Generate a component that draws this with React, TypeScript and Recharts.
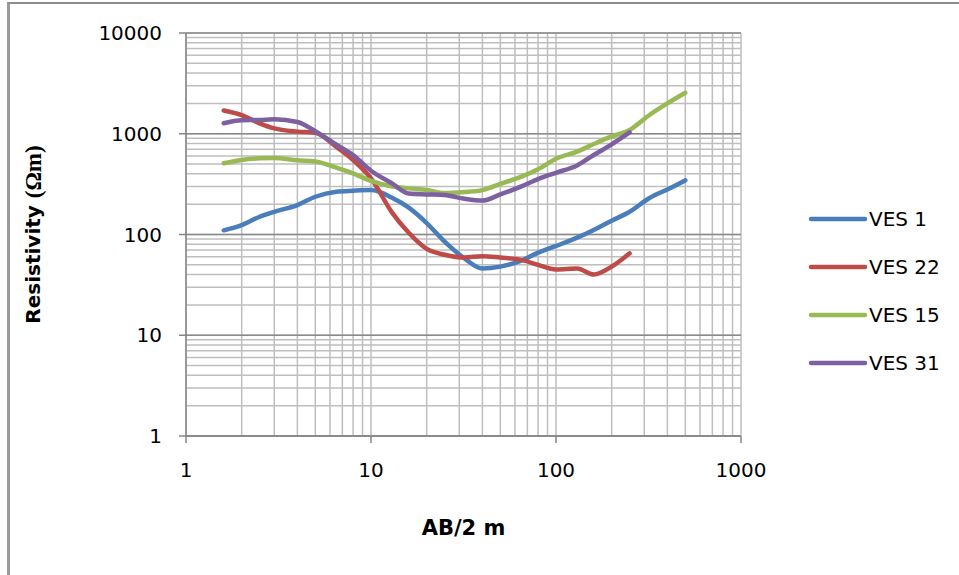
import React from 'react';
import { LineChart, Line, XAxis, YAxis, CartesianGrid, Legend } from 'recharts';

// AB/2 spacings (m)
const abHalfLong = [1.6, 2, 2.5, 3, 4, 5, 6.5, 8, 10, 13, 16, 20, 25, 32, 40, 50, 65, 80, 100, 130, 160, 200, 250, 320, 400, 500];
const abHalfShort = [1.6, 2, 2.5, 3, 4, 5, 6.5, 8, 10, 13, 16, 20, 25, 32, 40, 50, 65, 80, 100, 130, 160, 200, 250];

// Apparent resistivity (Ohm m)
const ves1 = [110, 124, 150, 168, 196, 237, 266, 272, 276, 232, 185, 130, 85, 58, 46, 48, 55, 66, 77, 93, 111, 137, 168, 230, 280, 345];
const ves22 = [1700, 1530, 1270, 1130, 1050, 1020, 740, 549, 361, 165, 104, 72, 63, 59, 61, 59, 56, 50, 45, 46, 40, 48, 65];
const ves15 = [509, 549, 570, 575, 545, 530, 460, 405, 340, 300, 287, 276, 258, 264, 276, 318, 375, 445, 565, 665, 790, 940, 1089, 1535, 2000, 2550];
const ves31 = [1270, 1360, 1370, 1390, 1310, 1060, 780, 615, 430, 322, 255, 250, 246, 226, 217, 250, 300, 355, 410, 485, 615, 785, 1030];

const seriesNames = ['VES 1', 'VES 22', 'VES 15', 'VES 31'];
const seriesColors = ['#4a7ebb', '#be4b48', '#98b954', '#7d60a0'];

const xTicks = [1, 10, 100, 1000];
const yTicks = [1, 10, 100, 1000, 10000];
const minorSteps = [1, 2, 3, 4, 5, 6, 7, 8, 9];

const xMinor: number[] = [];
[1, 10, 100].forEach((d) => minorSteps.forEach((m) => xMinor.push(d * m)));
xMinor.push(1000);
const yMinor: number[] = [];
[1, 10, 100, 1000].forEach((d) => minorSteps.forEach((m) => yMinor.push(d * m)));
yMinor.push(10000);

const toPoints = (xs: number[], ys: number[]) => xs.map((x, i) => ({ x, y: ys[i] }));

const seriesList = [
  { name: seriesNames[0], color: seriesColors[0], data: toPoints(abHalfLong, ves1) },
  { name: seriesNames[1], color: seriesColors[1], data: toPoints(abHalfShort, ves22) },
  { name: seriesNames[2], color: seriesColors[2], data: toPoints(abHalfLong, ves15) },
  { name: seriesNames[3], color: seriesColors[3], data: toPoints(abHalfShort, ves31) },
];

const FONT = 'DejaVu Sans';

const XTitle = (props: any) => {
  const vb = props.viewBox || {};
  const cx = vb.x + vb.width / 2;
  return (
    <text x={cx} y={vb.y + 92} textAnchor="middle" dominantBaseline="central" fontFamily={FONT} fontWeight="bold" fontSize={21} fill="#000">
      AB/2 m
    </text>
  );
};

const YTitle = (props: any) => {
  const vb = props.viewBox || {};
  const cx = 33;
  const cy = vb.y + vb.height / 2;
  return (
    <text x={cx} y={cy} transform={`rotate(-90, ${cx}, ${cy})`} textAnchor="middle" dominantBaseline="central" fontFamily={FONT} fontWeight="bold" fontSize={20} fill="#000">
      Resistivity <tspan fontFamily="Liberation Serif" fontSize={23}>(Ωm)</tspan>
    </text>
  );
};

const LegendContent = (props: any) => {
  const payload = [...(props.payload || [])].sort(
    (a: any, b: any) => seriesNames.indexOf(a.value) - seriesNames.indexOf(b.value)
  );
  return (
    <div style={{ display: 'flex', flexDirection: 'column' }}>
      {payload.map((p: any) => (
        <div key={p.value} style={{ height: 48, display: 'flex', alignItems: 'center' }}>
          <svg width={60} height={10} style={{ display: 'block' }}>
            <line x1={3} y1={5} x2={57} y2={5} stroke={p.color} strokeWidth={4.5} strokeLinecap="round" />
          </svg>
          <span style={{ fontFamily: FONT, fontSize: 20, color: '#000', marginLeft: 1, lineHeight: '20px' }}>{p.value}</span>
        </div>
      ))}
    </div>
  );
};

export default function App() {
  return (
    <div style={{ position: 'absolute', left: 0, top: 0, width: 959, height: 575, background: '#fff', overflow: 'hidden' }}>
      <div style={{ position: 'absolute', left: 7, top: 2, width: 1000, height: 700, borderLeft: '3px solid #9a9a9a', borderTop: '2px solid #8c8c8c' }} />
      <div style={{ position: 'absolute', left: 0, top: 0 }}>
        <LineChart width={959} height={575} margin={{ top: 33, right: 218, bottom: 79, left: 86 }}>
          <CartesianGrid stroke="#bebebe" strokeWidth={1.5} verticalValues={xMinor} horizontalValues={yMinor} />
          <CartesianGrid stroke="#8a8a8a" strokeWidth={1.5} vertical={false} horizontalValues={yTicks} />
          <XAxis
            type="number"
            dataKey="x"
            scale="log"
            domain={[1, 1000]}
            ticks={xTicks}
            interval={0}
            allowDataOverflow
            height={60}
            tickSize={7}
            tickMargin={20}
            stroke="#868686"
            strokeWidth={1.5}
            tick={{ fill: '#000', fontSize: 20, fontFamily: FONT }}
            tickFormatter={(v: number) => String(v)}
            label={<XTitle />}
          />
          <YAxis
            type="number"
            dataKey="y"
            scale="log"
            domain={[1, 10000]}
            ticks={yTicks}
            interval={0}
            allowDataOverflow
            width={100}
            tickSize={7}
            tickMargin={17}
            stroke="#868686"
            strokeWidth={1.5}
            tick={{ fill: '#000', fontSize: 20, fontFamily: FONT }}
            tickFormatter={(v: number) => String(v)}
            label={<YTitle />}
          />
          <Legend
            layout="horizontal"
            verticalAlign="middle"
            align="center"
            content={<LegendContent />}
            wrapperStyle={{ position: 'absolute', left: 808, top: 195, width: 150 }}
          />
          {seriesList.map((s) => (
            <Line
              key={s.name}
              name={s.name}
              data={s.data}
              dataKey="y"
              type="monotone"
              stroke={s.color}
              strokeWidth={4.5}
              strokeLinecap="round"
              strokeLinejoin="round"
              dot={false}
              activeDot={false}
              isAnimationActive={false}
            />
          ))}
        </LineChart>
      </div>
    </div>
  );
}
